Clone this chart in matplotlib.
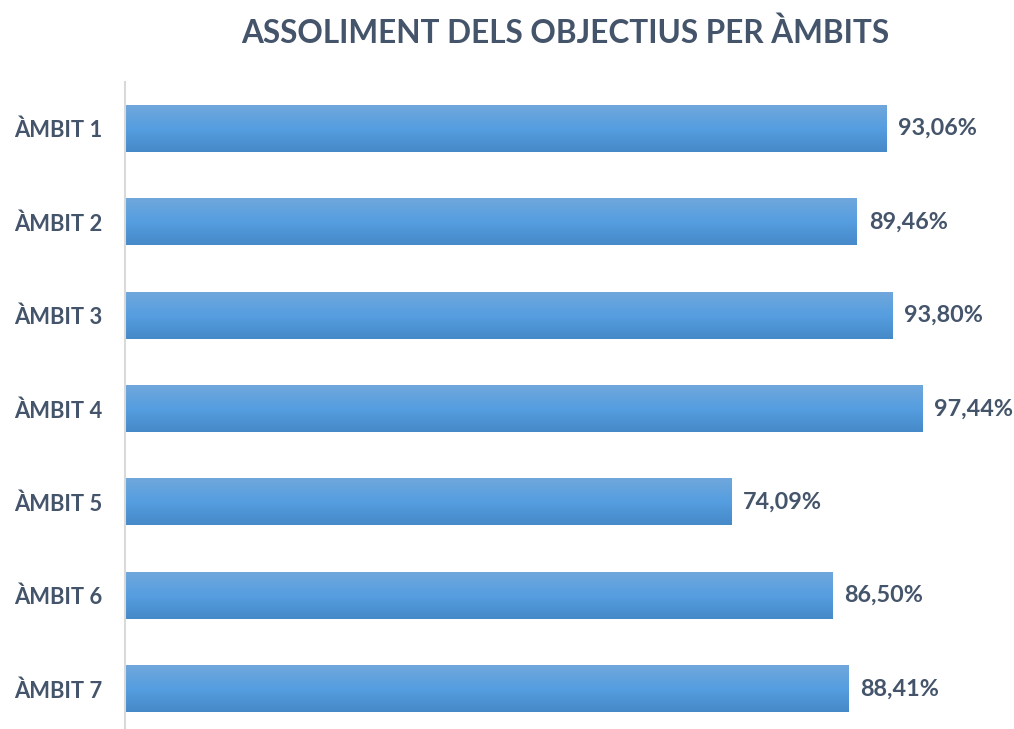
import matplotlib
matplotlib.use("Agg")
import matplotlib.pyplot as plt
import numpy as np
from matplotlib.colors import LinearSegmentedColormap

categories = ["ÀMBIT 1", "ÀMBIT 2", "ÀMBIT 3", "ÀMBIT 4", "ÀMBIT 5", "ÀMBIT 6", "ÀMBIT 7"]
values = [93.06, 89.46, 93.80, 97.44, 74.09, 86.50, 88.41]
value_labels = ["93,06%", "89,46%", "93,80%", "97,44%", "74,09%", "86,50%", "88,41%"]
title = "ASSOLIMENT DELS OBJECTIUS PER ÀMBITS"

plt.rcParams['font.family'] = ['Lato', 'DejaVu Sans']
text_color = "#44546a"

W, H = 1014, 729
fig = plt.figure(figsize=(W / 100, H / 100), dpi=100)
ax = fig.add_axes([125 / W, 0, (943 - 125) / W, (729 - 82) / H])

cmap = LinearSegmentedColormap.from_list("g", ["#4689c8", "#559ee0", "#70a7dc"])
grad = np.linspace(0, 1, 256).reshape(-1, 1)

bar_h = 0.5
bars = ax.barh(range(len(categories)), values, height=bar_h, color="none")
for b in bars:
    x0, y0 = b.get_x(), b.get_y()
    w, h = b.get_width(), b.get_height()
    ax.imshow(grad, cmap=cmap, aspect="auto", extent=(x0, x0 + w, y0 + h, y0),
              origin="lower", zorder=2, interpolation="bicubic")

ax.set_xlim(0, 100)
ax.set_ylim(6.43, -0.5)
for i, (v, lab) in enumerate(zip(values, value_labels)):
    ax.text(v + 1.45, i, lab, va="center", ha="left", fontsize=16.8,
            fontweight="bold", color=text_color)

ax.set_yticks(range(len(categories)))
ax.set_yticklabels(categories, fontsize=15.8, fontweight="bold", color=text_color)
ax.tick_params(axis="y", length=0, pad=16.5)
ax.set_xticks([])
for s in ["top", "right", "bottom"]:
    ax.spines[s].set_visible(False)
ax.spines["left"].set_color("#d9d9d9")
ax.spines["left"].set_linewidth(1.5)

fig.text(565 / W, 1 - 33 / H, title, ha="center", va="center", fontsize=22.7,
         fontweight="bold", color=text_color)

fig.savefig("out.png", dpi=100)
